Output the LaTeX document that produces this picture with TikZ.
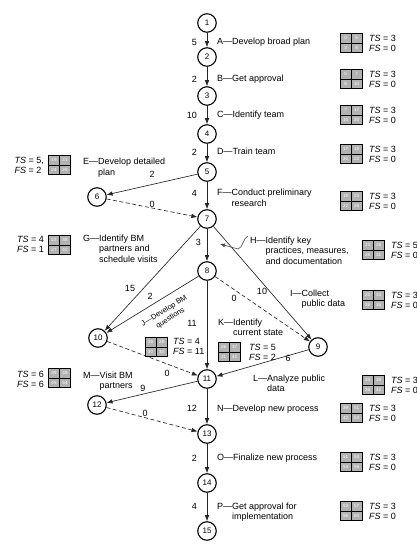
\documentclass[tikz,border=0pt]{standalone}
\usepackage{fontspec}
\setmainfont{Liberation Sans}
\usetikzlibrary{arrows.meta,calc}
\newcommand{\actlab}[2]{#1—\begin{tabular}[t]{@{}l@{}}#2\end{tabular}}
\newcommand{\tbx}[6]{%
  \node[tbox] (#1) at (#2) {};
  \draw[line width=0.6pt,black] (#1.north) -- (#1.south) (#1.west) -- (#1.east);
  \node[bnum] at ($(#1.center)+(-5.5,-4.75)$) {#3};
  \node[bnum] at ($(#1.center)+(5.5,-4.75)$) {#4};
  \node[bnum] at ($(#1.center)+(-5.5,4.75)$) {#5};
  \node[bnum] at ($(#1.center)+(5.5,4.75)$) {#6};
}
\begin{document}
\begin{tikzpicture}[x=1pt,y=-1pt,
  ev/.style={circle,draw=black,line width=1.1pt,minimum size=18.5pt,inner sep=0pt,font=\fontsize{8}{9}\selectfont,fill=white},
  arr/.style={draw=black!85,line width=0.65pt,-{Latex[length=6pt,width=4.5pt]}},
  dum/.style={arr,dash pattern=on 4pt off 2.5pt},
  dur/.style={font=\fontsize{9}{10}\selectfont,inner sep=0pt},
  lab/.style={font=\fontsize{9}{10.5}\selectfont,inner sep=0pt,anchor=base west},
  tsf/.style={font=\fontsize{9}{10}\selectfont,inner sep=0pt,align=left},
  tbox/.style={draw=black,line width=0.8pt,fill=gray!60,minimum width=22pt,minimum height=19pt,inner sep=0pt},
  bnum/.style={font=\fontsize{4.5}{5}\selectfont,text=white,inner sep=0pt},
  leader/.style={draw=black!70,line width=0.6pt,-{Latex[length=5pt,width=4pt]}}
]
\fill[white] (0,0) rectangle (416,545);
\useasboundingbox (0,0) rectangle (416,545);

% events
\node[ev] (n1) at (207,23) {1};
\node[ev] (n2) at (207,57) {2};
\node[ev] (n3) at (207,96) {3};
\node[ev] (n4) at (207,134) {4};
\node[ev] (n5) at (207,172) {5};
\node[ev] (n6) at (97,197) {6};
\node[ev] (n7) at (207,219) {7};
\node[ev] (n8) at (207,271) {8};
\node[ev] (n9) at (318,347) {9};
\node[ev] (n10) at (98,338) {10};
\node[ev] (n11) at (207,379) {11};
\node[ev] (n12) at (97,405) {12};
\node[ev] (n13) at (207,434) {13};
\node[ev] (n14) at (207,483) {14};
\node[ev] (n15) at (207,531) {15};

% activities
\draw[arr] (n1) -- (n2);
\draw[arr] (n2) -- (n3);
\draw[arr] (n3) -- (n4);
\draw[arr] (n4) -- (n5);
\draw[arr] (n5) -- (n6);
\draw[dum] (n6) -- (n7);
\draw[arr] (n5) -- (n7);
\draw[arr] (n7) -- (n8);
\draw[arr] (n7) -- (n9);
\draw[arr] (n7) -- (n10);
\draw[arr] (n8) -- (n10);
\draw[dum] (n8) -- (n9);
\draw[arr] (n8) -- (n11);
\draw[arr] (n9) -- (n11);
\draw[dum] (n10) -- (n11);
\draw[arr] (n11) -- (n12);
\draw[dum] (n12) -- (n13);
\draw[arr] (n11) -- (n13);
\draw[arr] (n13) -- (n14);
\draw[arr] (n14) -- (n15);

% durations
\node[dur,anchor=east] (dA) at (197,42) {5};
\node[dur,anchor=east] (dB) at (197,79) {2};
\node[dur,anchor=east] (dC) at (197,115) {10};
\node[dur,anchor=east] (dD) at (197,152) {2};
\node[dur,anchor=east] (dF) at (197,193) {4};
\node[dur] (dE) at (152,174) {2};
\node[dur] (d67) at (152,204) {0};
\node[dur,anchor=east] (dH) at (201,242) {3};
\node[dur] (dG) at (130,288) {15};
\node[dur] (dJ) at (150,296) {2};
\node[dur] (dK) at (192,323) {11};
\node[dur] (d89) at (234,298) {0};
\node[dur] (dI) at (262,291) {10};
\node[dur] (dL) at (288,358) {6};
\node[dur] (d1011) at (167,373) {0};
\node[dur] (dM) at (143,388) {9};
\node[dur,anchor=east] (dN) at (197,408) {12};
\node[dur] (d1213) at (145,413) {0};
\node[dur,anchor=east] (dO) at (197,458) {2};
\node[dur,anchor=east] (dP) at (197,506) {4};

% activity labels
\node[lab] (lA) at (217,45) {\actlab{A}{Develop broad plan}};
\node[lab] (lB) at (217,82) {\actlab{B}{Get approval}};
\node[lab] (lC) at (217,118) {\actlab{C}{Identify team}};
\node[lab] (lD) at (217,155) {\actlab{D}{Train team}};
\node[lab] (lF) at (217,196) {\actlab{F}{Conduct preliminary\\research}};
\node[lab] (lE) at (83,165) {\actlab{E}{Develop detailed\\plan}};
\node[lab] (lG) at (83,241) {\actlab{G}{Identify BM\\partners and\\schedule visits}};
\node[lab] (lH) at (250,243) {\actlab{H}{Identify key\\practices, measures,\\and documentation}};
\node[lab] (lI) at (290,296) {\actlab{I}{Collect\\public data}};
\node[lab] (lK) at (218,325) {\actlab{K}{Identify\\current state}};
\node[lab] (lL) at (253,381) {\actlab{L}{Analyze public\\data}};
\node[lab] (lM) at (83,378) {\actlab{M}{Visit BM\\partners}};
\node[lab] (lN) at (217,411) {\actlab{N}{Develop new process}};
\node[lab] (lO) at (217,460) {\actlab{O}{Finalize new process}};
\node[lab] (lP) at (217,509) {\actlab{P}{Get approval for\\implementation}};
\node[font=\fontsize{7.5}{9.5}\selectfont,inner sep=0pt,anchor=north,rotate=31.6] (lJ) at (161.8,306.8) {\actlab{J}{Develop BM\\questions}};

% leader for H
\coordinate (hl) at (248,236);
\coordinate (ht) at (220,244);
\draw[leader] (hl) .. controls (243,238) and (243,248) .. (238,249) -- (ht);

% time boxes
\tbx{bA}{351,43}{0}{5}{3}{8}
\tbx{bB}{351,79}{5}{7}{8}{10}
\tbx{bC}{351,115}{7}{17}{10}{20}
\tbx{bD}{351,154}{17}{19}{20}{22}
\tbx{bF}{351,201}{19}{23}{22}{26}
\tbx{bE}{59.5,165}{19}{21}{24}{26}
\tbx{bG}{59.5,245}{23}{38}{27}{42}
\tbx{bM}{59.5,378}{39}{48}{45}{54}
\tbx{bH}{373,250}{23}{26}{28}{31}
\tbx{bI}{373,300}{23}{33}{26}{36}
\tbx{bL}{373,385}{33}{39}{36}{42}
\tbx{bJ}{156,347}{26}{28}{30}{32}
\tbx{bK}{229,352}{26}{37}{31}{42}
\tbx{bN}{351,413}{39}{51}{42}{54}
\tbx{bO}{351,462}{51}{53}{54}{56}
\tbx{bP}{351,511}{53}{57}{56}{60}

% slack texts
\node[tsf,anchor=west] (sA) at (369,43) {\textit{TS} = 3\\\textit{FS} = 0};
\node[tsf,anchor=west] (sB) at (369,79) {\textit{TS} = 3\\\textit{FS} = 0};
\node[tsf,anchor=west] (sC) at (369,115) {\textit{TS} = 3\\\textit{FS} = 0};
\node[tsf,anchor=west] (sD) at (369,154) {\textit{TS} = 3\\\textit{FS} = 0};
\node[tsf,anchor=west] (sF) at (369,201) {\textit{TS} = 3\\\textit{FS} = 0};
\node[tsf,anchor=west] (sN) at (369,413) {\textit{TS} = 3\\\textit{FS} = 0};
\node[tsf,anchor=west] (sO) at (369,462) {\textit{TS} = 3\\\textit{FS} = 0};
\node[tsf,anchor=west] (sP) at (369,511) {\textit{TS} = 3\\\textit{FS} = 0};
\node[tsf,anchor=west] (sH) at (391,250) {\textit{TS} = 5\\\textit{FS} = 0};
\node[tsf,anchor=west] (sI) at (391,300) {\textit{TS} = 3\\\textit{FS} = 0};
\node[tsf,anchor=west] (sL) at (391,385) {\textit{TS} = 3\\\textit{FS} = 0};
\node[tsf,anchor=west] (sJ) at (173,346) {\textit{TS} = 4\\\textit{FS} = 11};
\node[tsf,anchor=west] (sK) at (249,352) {\textit{TS} = 5\\\textit{FS} = 2};
\node[tsf,anchor=east] (sE) at (44,165) {\textit{TS} = 5,\\\textit{FS} = 2};
\node[tsf,anchor=east] (sG) at (44,244) {\textit{TS} = 4\\\textit{FS} = 1};
\node[tsf,anchor=east] (sM) at (44,379) {\textit{TS} = 6\\\textit{FS} = 6};
\end{tikzpicture}
\end{document}
